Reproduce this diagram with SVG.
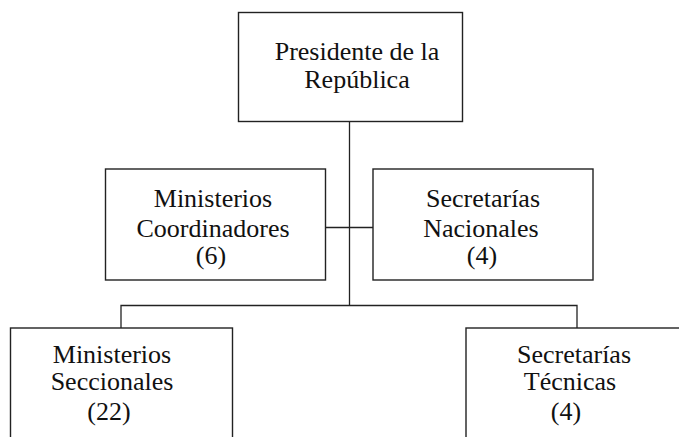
<svg xmlns="http://www.w3.org/2000/svg" width="679" height="437" viewBox="0 0 679 437">
<style>
.box{fill:#fff;stroke:#222;stroke-width:1.4}
.ln{fill:none;stroke:#222;stroke-width:1.3}
text{font-family:"Liberation Serif","Times New Roman",serif;font-size:26px;fill:#111;text-anchor:middle}
</style>
<rect width="679" height="437" fill="#fff"/>
<g id="connectors">
<path class="ln" d="M349.5 122V305.5M325 227.5H373M121 328V305.5H577V328"/>
</g>
<g id="presidente">
<rect class="box" x="238.5" y="12.5" width="224" height="109"/>
<text x="357" y="60">Presidente de la</text>
<text x="357" y="88">República</text>
</g>
<g id="coordinadores">
<rect class="box" x="105.5" y="169" width="220" height="111"/>
<text x="213" y="207">Ministerios</text>
<text x="213" y="237">Coordinadores</text>
<text x="211" y="264">(6)</text>
</g>
<g id="nacionales">
<rect class="box" x="373" y="169" width="220" height="111"/>
<text x="483" y="207">Secretarías</text>
<text x="481" y="237">Nacionales</text>
<text x="482" y="264">(4)</text>
</g>
<g id="seccionales">
<rect class="box" x="10.5" y="328" width="222" height="120"/>
<text x="112" y="363">Ministerios</text>
<text x="112" y="390">Seccionales</text>
<text x="109" y="420">(22)</text>
</g>
<g id="tecnicas">
<rect class="box" x="466" y="328" width="222" height="120"/>
<text x="574" y="363">Secretarías</text>
<text x="570" y="390">Técnicas</text>
<text x="566" y="420">(4)</text>
</g>
</svg>
